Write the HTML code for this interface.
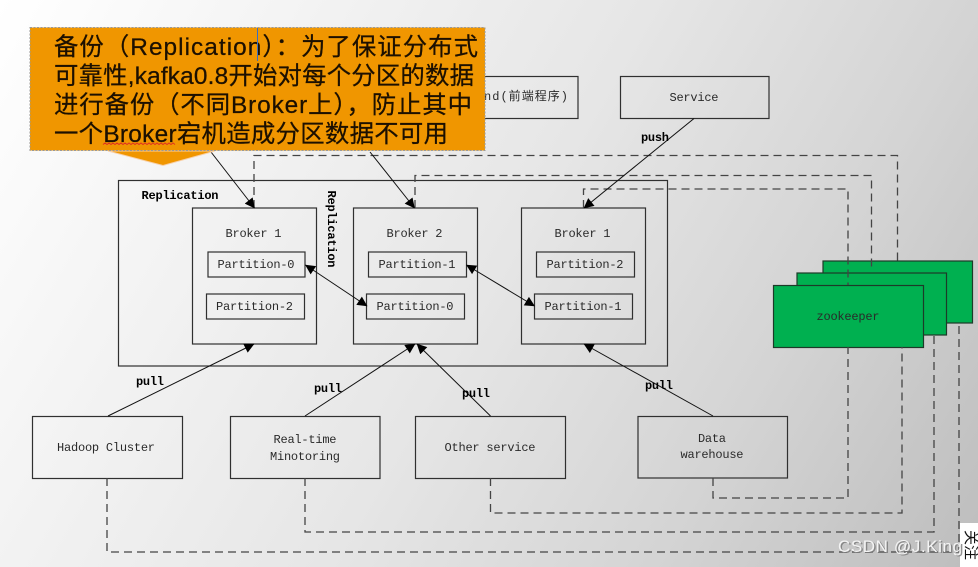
<!DOCTYPE html>
<html><head><meta charset="utf-8">
<style>
html,body{margin:0;padding:0;width:978px;height:567px;overflow:hidden;background:#ddd}
svg{display:block}
.m{font-family:"Liberation Mono","Noto Sans CJK SC",monospace;font-size:12px;fill:#2a2a2a;text-anchor:middle}
.b{font-family:"Liberation Mono",monospace;font-size:12px;font-weight:bold;fill:#000;text-anchor:middle}
.c{font-family:"Liberation Sans","Noto Sans CJK SC",sans-serif;font-size:24.4px;fill:#1c1000;stroke:#1c1000;stroke-width:.25}
</style></head><body>
<svg width="978" height="567" viewBox="0 0 978 567" xmlns="http://www.w3.org/2000/svg">
<defs>
<linearGradient id="bg" x1="0" y1="0" x2="978" y2="567" gradientUnits="userSpaceOnUse">
<stop offset="0" stop-color="#ffffff"/><stop offset=".22" stop-color="#f4f4f4"/><stop offset=".5" stop-color="#e6e6e6"/><stop offset=".75" stop-color="#d4d4d4"/><stop offset="1" stop-color="#bdbdbd"/>
</linearGradient>
<marker id="a" viewBox="0 0 10 10" refX="9.500" refY="5" markerWidth="11" markerHeight="10" markerUnits="userSpaceOnUse" orient="auto-start-reverse"><path d="M0 0L10 5L0 10Z" fill="#000"/></marker>
</defs>
<rect width="978" height="567" fill="url(#bg)"/>
<g fill="none" stroke="#303030" stroke-width="1.2">
<rect x="118.500" y="180.500" width="549" height="185.500"/>
<rect x="192.500" y="208" width="124" height="136"/>
<rect x="353.500" y="208" width="124" height="136"/>
<rect x="521.500" y="208" width="124" height="136"/>
<rect x="208" y="252" width="97" height="25"/>
<rect x="206.500" y="294" width="98" height="25"/>
<rect x="368.500" y="252" width="98" height="25"/>
<rect x="366.500" y="294" width="98" height="25"/>
<rect x="536.500" y="252" width="98" height="25"/>
<rect x="534.500" y="294" width="98" height="25"/>
<rect x="440" y="76.500" width="138" height="42"/>
<rect x="620.500" y="76.500" width="148.500" height="42"/>
<rect x="32.500" y="416.500" width="150" height="62"/>
<rect x="230.500" y="416.500" width="149.500" height="62"/>
<rect x="415.500" y="416.500" width="150" height="62"/>
<rect x="638" y="416.500" width="149.500" height="61.500"/>
</g>
<g fill="#00b050" stroke="#1d3a28" stroke-width="1.2">
<rect x="823" y="261" width="149.500" height="62"/>
<rect x="797" y="273" width="149.500" height="62"/>
<rect x="773.500" y="285.500" width="150" height="62"/>
</g>
<g fill="none" stroke="#444" stroke-width="1.300" stroke-dasharray="8 5">
<path d="M254 208V155.500H897.500V261"/>
<path d="M415 208V175.500H871.500V270"/>
<path d="M583.500 208V189H848V285"/>
<path d="M713 478V498H848V347"/>
<path d="M490.500 478V513H902V347"/>
<path d="M305 478V532H934V335"/>
<path d="M107 478V552H959V323"/>
</g>
<g stroke="#111" stroke-width="1" fill="none">
<path d="M211 152L254.500 208" marker-end="url(#a)"/>
<path d="M370 152L414.500 208" marker-end="url(#a)"/>
<path d="M694 118.500L584 208" marker-end="url(#a)"/>
<path d="M108 416L254 344" marker-end="url(#a)"/>
<path d="M305 416L415 344" marker-end="url(#a)"/>
<path d="M490.500 416L417 344" marker-end="url(#a)"/>
<path d="M713 416L584 344" marker-end="url(#a)"/>
<path d="M305.500 265L367 306" marker-start="url(#a)" marker-end="url(#a)"/>
<path d="M466.500 265L534.500 306" marker-start="url(#a)" marker-end="url(#a)"/>
</g>
<g>
<text class="m" x="253.500" y="237" textLength="56">Broker 1</text>
<text class="m" x="414.500" y="237" textLength="56">Broker 2</text>
<text class="m" x="582.500" y="237" textLength="56">Broker 1</text>
<text class="m" x="256" y="268" textLength="77">Partition-0</text>
<text class="m" x="254.500" y="310" textLength="77">Partition-2</text>
<text class="m" x="417" y="268" textLength="77">Partition-1</text>
<text class="m" x="415" y="310" textLength="77">Partition-0</text>
<text class="m" x="585" y="268" textLength="77">Partition-2</text>
<text class="m" x="583" y="310" textLength="77">Partition-1</text>
<text class="m" x="694" y="101" textLength="49">Service</text>
<text class="m" x="526" y="100" textLength="84">nd(前端程序)</text>
<text class="m" x="848" y="320" textLength="63">zookeeper</text>
<text class="m" x="106" y="451" textLength="98">Hadoop Cluster</text>
<text class="m" x="305" y="443" textLength="63">Real-time</text>
<text class="m" x="305" y="460" textLength="70">Minotoring</text>
<text class="m" x="490" y="451" textLength="91">Other service</text>
<text class="m" x="712" y="442" textLength="28">Data</text>
<text class="m" x="712" y="458" textLength="63">warehouse</text>
<text class="b" x="180" y="199" textLength="77">Replication</text>
<text class="b" transform="translate(328,229) rotate(90)" x="0" y="0" textLength="77">Replication</text>
<text class="b" x="655" y="141" textLength="28">push</text>
<text class="b" x="150" y="385" textLength="28">pull</text>
<text class="b" x="328" y="392" textLength="28">pull</text>
<text class="b" x="476" y="397" textLength="28">pull</text>
<text class="b" x="659" y="389" textLength="28">pull</text>
</g>
<polygon points="108,151 163,165.500 215,151" fill="#f09600" stroke="#f8d0a8" stroke-width="1"/>
<rect x="30" y="27.500" width="455" height="123" fill="#f09600" stroke="#999" stroke-width="1" stroke-dasharray="2 1.500"/>
<text class="c" x="54" y="55" textLength="424">备份（Replication）：为了保证分布式</text>
<text class="c" x="54" y="84" textLength="420">可靠性,kafka0.8开始对每个分区的数据</text>
<text class="c" x="54" y="113" textLength="418">进行备份（不同Broker上），防止其中</text>
<text class="c" x="54" y="142" textLength="394">一个Broker宕机造成分区数据不可用</text>
<line x1="257.500" y1="28" x2="257.500" y2="61" stroke="#3a6fc0" stroke-width="1"/>
<path d="M103 144.500l2-1.500 2 1.500 2-1.500 2 1.500 2-1.500 2 1.500 2-1.500 2 1.500 2-1.500 2 1.500 2-1.500 2 1.500 2-1.500 2 1.500 2-1.500 2 1.500 2-1.500 2 1.500 2-1.500 2 1.500 2-1.500 2 1.500 2-1.500 2 1.500 2-1.500 2 1.500 2-1.500 2 1.500 2-1.500 2 1.500 2-1.500 2 1.500 2-1.500 2 1.500 2-1.500 2 1.500" fill="none" stroke="#e03020" stroke-width="1"/>
<rect x="960" y="523" width="18" height="44" fill="#fff"/>
<text transform="translate(966,530) rotate(90)" font-family="'Noto Sans CJK SC',sans-serif" font-size="15" fill="#111">关注</text>
<text x="839.500" y="553" font-family="'Liberation Sans',sans-serif" font-size="17" fill="#777" opacity=".8" textLength="124">CSDN @J.King</text>
<text x="838" y="552" font-family="'Liberation Sans',sans-serif" font-size="17" fill="#f4f4f4" textLength="124">CSDN @J.King</text>
</svg>
</body></html>
